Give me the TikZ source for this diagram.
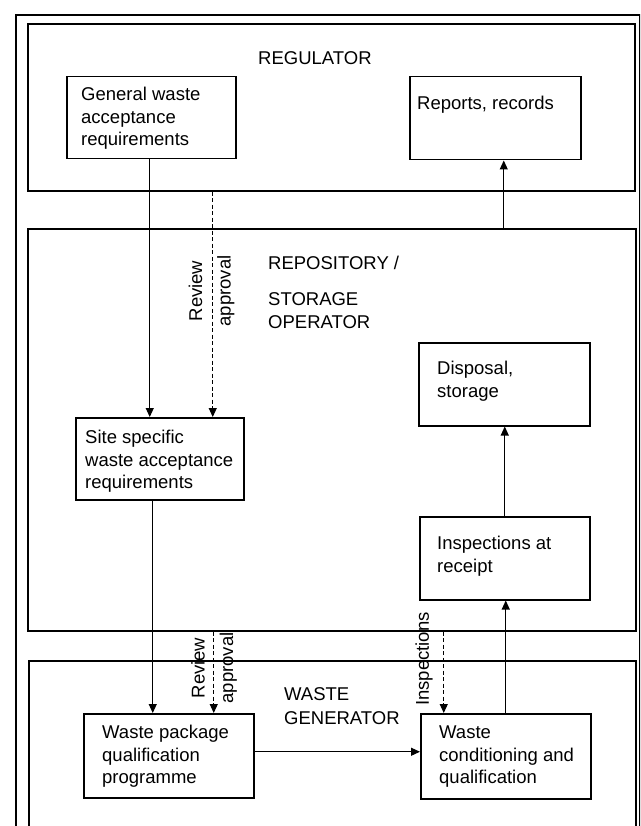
\documentclass[tikz,border=0pt]{standalone}
\usepackage{fontspec}
\setmainfont{Liberation Sans}
\usetikzlibrary{arrows.meta,calc}
\begin{document}
\begin{tikzpicture}[x=1pt,y=-1pt,
  frame/.style={draw, line width=1.7pt, inner sep=0pt, anchor=north west},
  box/.style={draw, line width=1.5pt, inner sep=0pt, anchor=north west},
  txt/.style={inner sep=0pt, anchor=north west, align=left, font=\fontsize{18.5pt}{22.5pt}\selectfont},
  lab/.style={inner sep=0pt, anchor=north west, align=left, font=\fontsize{18.5pt}{23.5pt}\selectfont},
  vlab/.style={inner sep=0pt, rotate=90, align=center, font=\fontsize{18.5pt}{28.5pt}\selectfont},
  conn/.style={line width=1.1pt, -{Triangle[length=9pt,width=8pt]}},
  dconn/.style={conn, dash pattern=on 4pt off 2.5pt},
]
\useasboundingbox (0,0) rectangle (640,826);
\clip (0,0) rectangle (640,826);
% frames
\node[frame, minimum width=624pt, minimum height=850pt] (outer) at (15,14) {};
\node[frame, minimum width=607pt, minimum height=167pt] (reg) at (27,23) {};
\node[frame, minimum width=608pt, minimum height=402pt] (repo) at (27,228) {};
\node[frame, minimum width=607pt, minimum height=200pt] (wgen) at (28,660) {};
% boxes
\node[box, minimum width=169pt, minimum height=82pt] (gen) at (66,76) {};
\node[box, minimum width=171pt, minimum height=83pt] (rep) at (409,76) {};
\node[box, minimum width=168pt, minimum height=82pt] (site) at (75,417) {};
\node[box, minimum width=171pt, minimum height=83pt] (disp) at (418,342) {};
\node[box, minimum width=170pt, minimum height=83pt] (insp) at (419,516) {};
\node[box, minimum width=170pt, minimum height=84pt] (wpq) at (83,713) {};
\node[box, minimum width=170pt, minimum height=85pt] (wcq) at (420,713) {};
% box texts
\node[txt] (tgen) at (81,87) {General waste\\acceptance\\requirements};
\node[txt] (trep) at (417,96) {Reports, records};
\node[txt] (tsite) at (85,430) {Site specific\\waste acceptance\\requirements};
\node[txt] (tdisp) at (437,361) {Disposal,\\storage};
\node[txt] (tinsp) at (437,536) {Inspections at\\receipt};
\node[txt] (twpq) at (102,725) {Waste package\\qualification\\programme};
\node[txt] (twcq) at (439,726) {Waste\\conditioning and\\qualification};
% section labels
\node[lab] (lreg) at (258,51.5) {REGULATOR};
\node[lab] (lrepo) at (268,255.5) {REPOSITORY /\\[12.5pt]STORAGE\\OPERATOR};
\node[lab] (lgen) at (284,687.5) {WASTE\\GENERATOR};
% vertical labels
\node[vlab] (rv1) at (211.5,291) {Review\\approval};
\node[vlab] (rv2) at (214,668) {Review\\approval};
\node[vlab] (ins) at (424,659) {Inspections};
% connectors
\draw[conn] ([xshift=-1.5pt]gen.south) -- ([xshift=-1.5pt]gen.south |- site.north);
\draw[dconn] ([xshift=53pt]site.north |- reg.south) -- ([xshift=53pt]site.north);
\draw[conn] ([xshift=8.5pt]rep.south |- repo.north) -- ([xshift=8.5pt]rep.south);
\draw[conn] ([xshift=-7pt]site.south) -- ([xshift=-7pt]site.south |- wpq.north);
\draw[dconn] ([xshift=45pt]wpq.north |- repo.south) -- ([xshift=45pt]wpq.north);
\draw[conn] ([yshift=4pt]wpq.east) -- ([yshift=4pt]wpq.east -| wcq.west);
\draw[dconn] ([xshift=-62pt]wcq.north |- repo.south) -- ([xshift=-62pt]wcq.north);
\draw[conn] (wcq.north) -- (wcq.north |- insp.south);
\draw[conn] (insp.north) -- (insp.north |- disp.south);
\end{tikzpicture}
\end{document}
